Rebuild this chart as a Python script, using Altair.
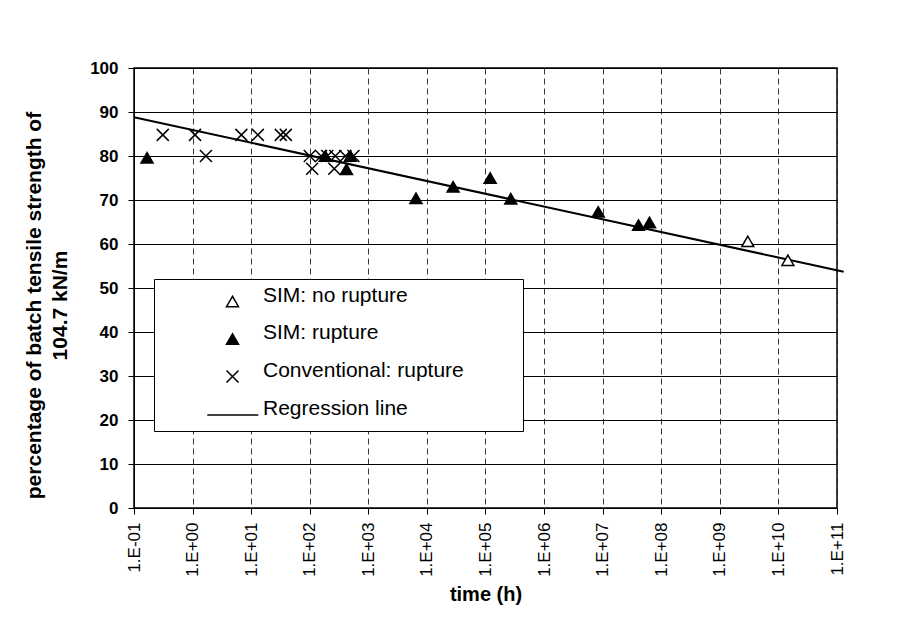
import altair as alt
import pandas as pd

# ---------------- data ----------------
series_names = ["SIM: no rupture", "SIM: rupture", "Conventional: rupture", "Regression line"]

sim_no_rupture_time = [3.0e9, 1.45e10]
sim_no_rupture_pct = [60.6, 56.3]

sim_rupture_time = [0.167, 184, 423, 494, 6500, 28000, 1.2e5, 2.7e5, 8.4e6, 4.1e7, 6.3e7]
sim_rupture_pct = [79.6, 80.0, 77.0, 80.0, 70.4, 73.0, 75.0, 70.3, 67.3, 64.3, 64.9]

conv_time = [0.31, 1.1, 1.69, 6.8, 13, 32, 39, 100, 110, 156, 199, 262, 273, 405, 557]
conv_pct = [84.8, 84.8, 80, 84.8, 84.8, 84.8, 84.8, 80, 77.1, 80, 80, 77.1, 80, 80, 80]

regression_time = [0.1, 1.3e11]
regression_pct = [88.8, 53.7]

x_ticks = [1e-1, 1e0, 1e1, 1e2, 1e3, 1e4, 1e5, 1e6, 1e7, 1e8, 1e9, 1e10, 1e11]
y_ticks = [0, 10, 20, 30, 40, 50, 60, 70, 80, 90, 100]

# ---------------- tables ----------------
points = pd.DataFrame(
    {
        "time": sim_no_rupture_time + sim_rupture_time + conv_time,
        "pct": sim_no_rupture_pct + sim_rupture_pct + conv_pct,
        "series": [series_names[0]] * len(sim_no_rupture_time)
        + [series_names[1]] * len(sim_rupture_time)
        + [series_names[2]] * len(conv_time),
    }
)
regression = pd.DataFrame({"time": regression_time, "pct": regression_pct})

FONT = "Liberation Sans, Arial, sans-serif"
NBSP = "\u00a0"
ZWSP = "\u200b"

x_scale = alt.Scale(type="log", domain=[0.1, 1e11], nice=False)
y_scale = alt.Scale(domain=[0, 100], nice=False)

x_axis = alt.Axis(
    values=x_ticks,
    labelExpr="'1.E' + (datum.value < 1 ? '-' : '+') + (abs(round(log(datum.value)/LN10)) < 10 ? '0' : '') + abs(round(log(datum.value)/LN10))",
    labelAngle=270,
    labelFont=FONT,
    labelFontSize=17,
    labelColor="black",
    labelPadding=8,
    tickSize=6,
    tickColor="black",
    domainColor="black",
    grid=True,
    gridColor="#222222",
    gridWidth=0.9,
    gridDash=[6, 4],
    title="time (h)",
    titleFont=FONT,
    titleFontSize=20,
    titleFontWeight="bold",
    titleColor="black",
    titlePadding=8,
)

y_axis = alt.Axis(
    values=y_ticks,
    labelFont=FONT,
    labelFontSize=17,
    labelFontWeight="bold",
    labelColor="black",
    labelPadding=10,
    tickSize=6,
    tickColor="black",
    domainColor="black",
    grid=True,
    gridColor="black",
    gridWidth=1,
    title=["percentage of batch tensile strength of", "104.7 kN/m"],
    titleFont=FONT,
    titleFontSize=21,
    titleFontWeight="bold",
    titleColor="black",
    titleAngle=270,
    titleAlign="center",
    titleBaseline="middle",
    titleLineHeight=26,
    titleX=-100,
    titleY=237,
)

shape_range = ["triangle-up", "triangle-up", "M-1,-1L1,1M-1,1L1,-1", "M-4.2,0L4.3,0"]
fill_range = ["white", "black", "transparent", "transparent"]
stroke_range = ["black", "black", "black", "black"]

legend = alt.Legend(
    title=None,
    orient="none",
    legendX=20,
    legendY=211,
    padding=12,
    fillColor="white",
    strokeColor="black",
    labelFont=FONT,
    labelFontSize=21,
    labelColor="black",
    labelBaseline="alphabetic",
    labelLimit=500,
    labelOffset=20,
    labelExpr="datum.label + '" + NBSP * 8 + ZWSP + "'",
    symbolOffset=56,
    symbolSize=144,
    symbolStrokeColor="black",
    symbolStrokeWidth=1.5,
    symbolOpacity=1,
    rowPadding=11.5,
)

line = (
    alt.Chart(regression)
    .mark_line(color="black", strokeWidth=2, clip=False)
    .encode(
        x=alt.X("time:Q", scale=x_scale, axis=x_axis),
        y=alt.Y("pct:Q", scale=y_scale, axis=y_axis),
    )
)

pts = (
    alt.Chart(points)
    .mark_point(filled=True, size=144, strokeWidth=1.5, opacity=1)
    .encode(
        x=alt.X("time:Q", scale=x_scale, axis=x_axis),
        y=alt.Y("pct:Q", scale=y_scale, axis=y_axis),
        shape=alt.Shape(
            "series:N",
            scale=alt.Scale(domain=series_names, range=shape_range),
            legend=legend,
        ),
        fill=alt.Fill(
            "series:N",
            scale=alt.Scale(domain=series_names, range=fill_range),
            legend=legend,
        ),
        stroke=alt.Stroke(
            "series:N",
            scale=alt.Scale(domain=series_names, range=stroke_range),
            legend=legend,
        ),
    )
)

chart = (
    alt.layer(line, pts)
    .properties(
        width=703,
        height=440,
        autosize=alt.AutoSizeParams(type="none"),
        padding={"left": 126, "top": 60, "right": 50, "bottom": 120},
        background="white",
    )
    .configure_view(stroke="black", strokeWidth=1.5)
)

chart.save("out.html", embed_options={"renderer": "svg", "actions": False})
